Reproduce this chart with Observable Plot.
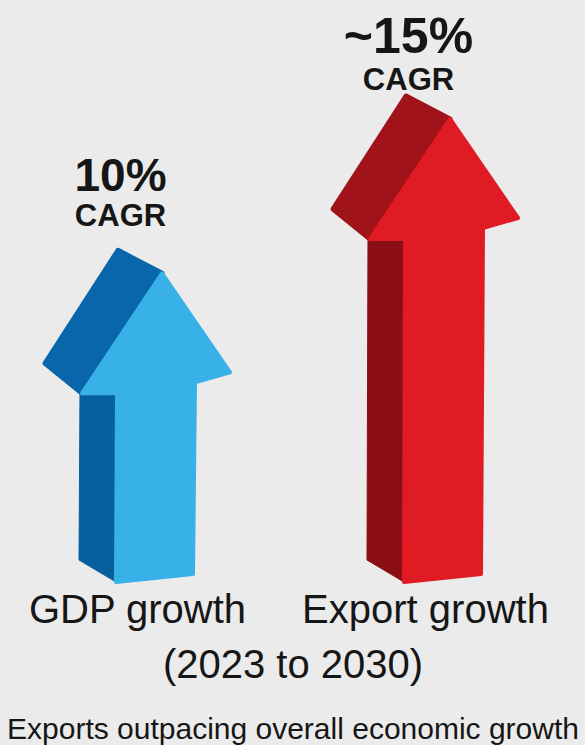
<!DOCTYPE html>
<html>
<head>
<meta charset="utf-8">
<script src="https://cdn.jsdelivr.net/npm/d3@7"></script>
<script src="https://cdn.jsdelivr.net/npm/@observablehq/plot@0.6"></script>
<style>
  html, body { margin: 0; padding: 0; background: #ebebeb; }
</style>
</head>
<body>
<div id="chart"></div>
<script>
// ---- data ----
const categories = ["GDP growth", "Export growth"];
const cagr = [10, 15];
const valueLabels = ["10%", "~15%"];
const unitLabel = "CAGR";
const periodLabel = "(2023 to 2030)";
const captionText = "Exports outpacing overall economic growth";

const data = categories.map((category, i) => ({category, value: cagr[i], label: valueLabels[i]}));

// ---- styles ----
const faceColor = {"GDP growth": "#37b1e7", "Export growth": "#e01b23"};
const headSideColor = {"GDP growth": "#0966aa", "Export growth": "#a1131b"};
const shaftSideColor = {"GDP growth": "#065f9f", "Export growth": "#8b0e14"};
const textColor = "#161616";

// 3D arrow drawn from the x / y scales: tip at y(value), foot at y(0)
function arrows(index, scales) {
  const g = d3.create("svg:g");
  const b = scales.y(0);
  for (const d of data) {
    const L = scales.x(d.category) - 21;
    const t = scales.y(d.value);
    const shaftSide = [[L - 36, t + 118], [L + 1, t + 120], [L, b], [L - 37, b - 22]];
    const headSide = [[L + 2, t - 23], [L + 46, t], [L - 34, t + 120], [L - 71, t + 90]];
    const front = [[L + 46, t], [L + 114, t + 99], [L + 79, t + 109], [L + 77, b - 8], [L, b], [L + 1, t + 120], [L - 34, t + 120]];
    const poly = (pts, color, sw) => g.append("path")
      .attr("d", "M" + pts.map(p => p.join(",")).join("L") + "Z")
      .attr("fill", color)
      .attr("stroke", color)
      .attr("stroke-width", sw)
      .attr("stroke-linejoin", "round");
    poly(shaftSide, shaftSideColor[d.category], 1);
    poly(headSide, headSideColor[d.category], 5);
    poly(front, faceColor[d.category], 4);
  }
  return g.node();
}

const font = "'Liberation Sans', Arial, Helvetica, sans-serif";

const plot = Plot.plot({
  width: 585,
  height: 745,
  marginTop: 119,
  marginBottom: 163,
  marginLeft: 0,
  marginRight: 0,
  x: {type: "point", domain: categories, range: [137, 425], padding: 0, axis: null},
  y: {domain: [0, 15], axis: null},
  style: {background: "#ebebeb", fontFamily: font, color: textColor},
  marks: [
    arrows,
    // value labels
    Plot.text(data.filter(d => d.category === categories[0]), {
      x: "category", y: "value", text: "label", dx: -17, dy: -83,
      fontSize: 46, fontWeight: "bold", lineAnchor: "bottom", fill: textColor
    }),
    Plot.text(data.filter(d => d.category === categories[1]), {
      x: "category", y: "value", text: "label", dx: -17, dy: -67,
      fontSize: 50, fontWeight: "bold", lineAnchor: "bottom", fill: textColor
    }),
    Plot.text(data.filter(d => d.category === categories[0]), {
      x: "category", y: "value", text: () => unitLabel, dx: -17, dy: -48,
      fontSize: 31, fontWeight: "bold", lineAnchor: "bottom", fill: textColor
    }),
    Plot.text(data.filter(d => d.category === categories[1]), {
      x: "category", y: "value", text: () => unitLabel, dx: -17, dy: -30,
      fontSize: 31, fontWeight: "bold", lineAnchor: "bottom", fill: textColor
    }),
    // category labels
    Plot.text(data, {
      x: "category", text: "category", frameAnchor: "bottom", dy: 40,
      fontSize: 40, lineAnchor: "bottom", fill: textColor
    }),
    Plot.text([periodLabel], {
      text: d => d, frameAnchor: "bottom", dy: 95,
      fontSize: 40, lineAnchor: "bottom", fill: textColor
    }),
    Plot.text([captionText], {
      text: d => d, frameAnchor: "bottom", dy: 156,
      fontSize: 30, lineAnchor: "bottom", fill: textColor
    })
  ]
});

document.getElementById("chart").appendChild(plot);
</script>
</body>
</html>
